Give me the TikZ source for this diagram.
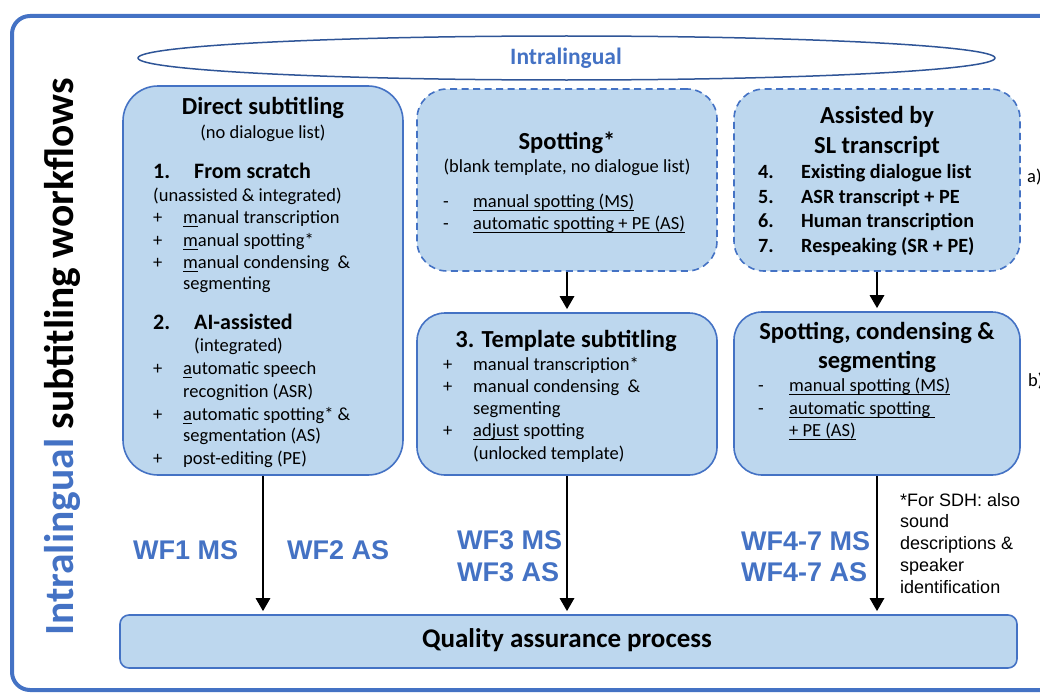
\documentclass[tikz,border=0pt]{standalone}
\usepackage{fontspec}
\setmainfont{Carlito}
\newfontfamily\arialfont{Liberation Sans}
\usetikzlibrary{arrows.meta,shapes.geometric}
\definecolor{boxfill}{HTML}{BDD7EE}
\definecolor{edgeblue}{HTML}{4472C4}
\definecolor{ellblue}{HTML}{2F5597}
\definecolor{wfblue}{HTML}{4472C4}

% underline at a fixed depth below the baseline
\newlength\ulnwidth
\newcommand\uln[1]{\settowidth{\ulnwidth}{#1}\rlap{\rule[-3.2pt]{\ulnwidth}{1.1pt}}#1}

\tikzset{
  panel/.style={draw=edgeblue, line width=1.6pt, fill=boxfill, inner sep=0pt},
  dashpanel/.style={panel, dash pattern=on 7pt off 4.5pt},
  body/.style={font=\fontsize{18.5}{22}\selectfont, inner sep=0pt, anchor=west,
    text height=13pt, text depth=4pt},
  bodyc/.style={body, anchor=center},
  head/.style={font=\bfseries\fontsize{22}{26}\selectfont, inner sep=0pt, anchor=west,
    text height=15pt, text depth=5pt},
  item/.style={font=\bfseries\fontsize{20.2}{24}\selectfont, inner sep=0pt, anchor=west,
    text height=14pt, text depth=4pt},
  ttl/.style={font=\bfseries\fontsize{24.5}{28}\selectfont, inner sep=0pt,
    text height=17pt, text depth=5pt},
  wf/.style={font=\arialfont\bfseries\fontsize{27}{30}\selectfont, text=wfblue,
    inner sep=0pt, anchor=west},
  flow/.style={line width=2.8pt, -{Triangle[width=14pt,length=13pt]}, shorten >=3pt},
}

\begin{document}
\begin{tikzpicture}[x=1pt,y=-1pt]
\useasboundingbox (0,0) rectangle (1040,693);
\clip (0,0) rectangle (1040,693);

% outer frame
\draw[edgeblue, line width=4pt, rounded corners=18pt] (12,16) rectangle (1080,690);

% heading ellipse
\node[draw=ellblue, line width=1.5pt, ellipse, minimum width=857pt, minimum height=44pt,
      inner sep=0pt] (ell) at (566.5,58) {};
\node[font=\bfseries\fontsize{23.5}{27}\selectfont, text=wfblue, inner sep=0pt] (elltxt)
      at (566,58) {Intralingual};

% vertical title
\node[rotate=90, font=\bfseries\fontsize{41.5}{46}\selectfont, inner sep=0pt] (vt)
      at (62,357) {\textcolor{wfblue}{Intralingual} subtitling workflows};

% boxes
\node[panel, rounded corners=35pt, minimum width=280pt, minimum height=389pt] (direct) at (263,280.5) {};
\node[dashpanel, rounded corners=30pt, minimum width=300pt, minimum height=182pt] (spot) at (567,180) {};
\node[panel, rounded corners=28pt, minimum width=300pt, minimum height=162pt] (templ) at (567,394) {};
\node[dashpanel, rounded corners=30pt, minimum width=286pt, minimum height=182pt] (assist) at (877,180) {};
\node[panel, rounded corners=28pt, minimum width=286pt, minimum height=163pt] (scs) at (877,393.5) {};
\node[panel, rounded corners=9pt, minimum width=897pt, minimum height=53pt] (qa) at (568.5,641.5) {};

% direct subtitling
\node[ttl] (d0) at (263,108) {Direct subtitling};
\node[bodyc] (d0b) at (263,134) {(no dialogue list)};
\node[head] (d1n) at (153,173) {1.};
\node[head] (d1) at (194,173) {From scratch};
\node[body] (d1b) at (153,197) {(unassisted \& integrated)};
\node[body] (p1) at (153,219) {+};
\node[body] (t1) at (183,219) {\uln{m}anual transcription};
\node[body] (p2) at (153,242) {+};
\node[body] (t2) at (183,242) {\uln{m}anual spotting*};
\node[body] (p3) at (153,264) {+};
\node[body] (t3) at (183,264) {\uln{m}anual condensing \ \&};
\node[body] (t3b) at (183,285) {segmenting};
\node[head] (d2n) at (153,324) {2.};
\node[head] (d2) at (194,324) {AI-assisted};
\node[body] (d2b) at (194,347) {(integrated)};
\node[body] (p4) at (153,370) {+};
\node[body] (t4) at (183,370) {\uln{a}utomatic speech};
\node[body] (t4b) at (183,393) {recognition (ASR)};
\node[body] (p5) at (153,416) {+};
\node[body] (t5) at (183,416) {\uln{a}utomatic spotting* \&};
\node[body] (t5b) at (183,437) {segmentation (AS)};
\node[body] (p6) at (153,460) {+};
\node[body] (t6) at (183,460) {post-editing (PE)};

% spotting
\node[ttl] (s0) at (567,143) {Spotting*};
\node[bodyc] (s0b) at (567,168) {(blank template, no dialogue list)};
\node[body] (sm1) at (443,203) {-};
\node[body] (s1) at (473,203) {\uln{manual spotting (MS)}};
\node[body] (sm2) at (443,225) {-};
\node[body] (s2) at (473,225) {\uln{automatic spotting + PE (AS)}};

% template subtitling
\node[ttl] (tp0) at (566,341) {3. Template subtitling};
\node[body] (tq1) at (443,366) {+};
\node[body] (tp1) at (473,366) {manual transcription*};
\node[body] (tq2) at (443,388) {+};
\node[body] (tp2) at (473,388) {manual condensing \ \&};
\node[body] (tp2b) at (473,410) {segmenting};
\node[body] (tq3) at (443,432) {+};
\node[body] (tp3) at (473,432) {\uln{adjust} spotting};
\node[body] (tp3b) at (473,455) {(unlocked template)};

% assisted by SL transcript
\node[ttl] (a0) at (877,117) {Assisted by};
\node[ttl] (a0b) at (877,147) {SL transcript};
\node[item] (an4) at (758,173) {4.};
\node[item] (a4) at (801,173) {Existing dialogue list};
\node[item] (an5) at (758,198) {5.};
\node[item] (a5) at (801,198) {ASR transcript + PE};
\node[item] (an6) at (758,222) {6.};
\node[item] (a6) at (801,222) {Human transcription};
\node[item] (an7) at (758,247) {7.};
\node[item] (a7) at (801,247) {Respeaking (SR + PE)};
\node[body] (la) at (1027,178) {a)};

% spotting, condensing & segmenting
\node[ttl] (c0) at (877,333) {Spotting, condensing \&};
\node[ttl] (c0b) at (877,362) {segmenting};
\node[body] (cm1) at (758,387) {-};
\node[body] (c1) at (789,387) {\uln{manual spotting (MS)}};
\node[body] (cm2) at (758,410) {-};
\node[body] (c2) at (789,410) {\uln{automatic spotting\ }};
\node[body] (c2b) at (789,432) {\uln{+ PE (AS)}};
\node[body] (lb) at (1028,382) {b)};

% quality assurance
\node[ttl, font=\bfseries\fontsize{27}{30}\selectfont] (qat) at (567,641) {Quality assurance process};

% connectors
\draw[flow] (direct.south) -- (qa.north -| direct.south);
\draw[flow] (spot.south) -- (templ.north);
\draw[flow] (templ.south) -- (qa.north -| templ.south);
\draw[flow] (assist.south) -- (scs.north);
\draw[flow] (scs.south) -- (qa.north -| scs.south);

% workflow labels
\node[wf] (wf1) at (133,550) {WF1 MS};
\node[wf] (wf2) at (287,550) {WF2 AS};
\node[wf] (wf3a) at (457,540) {WF3 MS};
\node[wf] (wf3b) at (457,572) {WF3 AS};
\node[wf] (wf4a) at (741,541) {WF4-7 MS};
\node[wf] (wf4b) at (741,572) {WF4-7 AS};

% footnote
\node[anchor=north west, align=left, inner sep=0pt,
      font=\arialfont\fontsize{18}{21.7}\selectfont] (note) at (900,493)
  {*For SDH: also\\sound\\descriptions \&\\speaker\\identification};
\end{tikzpicture}
\end{document}
